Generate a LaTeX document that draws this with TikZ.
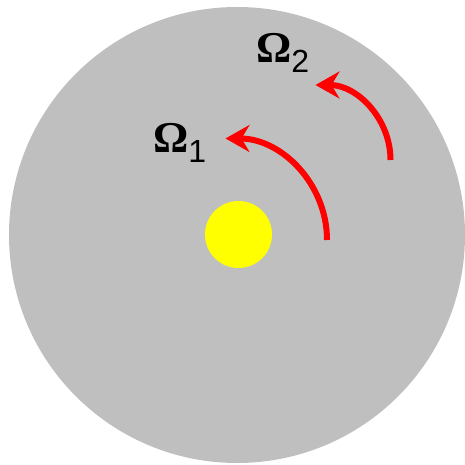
\documentclass[tikz,border=0pt]{standalone}
\usepackage{fontspec}
\setmainfont{Liberation Serif}
\setsansfont{Liberation Sans}
\usepackage{tikz}
\usetikzlibrary{arrows.meta}
\definecolor{diskcolor}{RGB}{191,191,191}
\definecolor{corecolor}{RGB}{255,255,0}
\definecolor{spincolor}{RGB}{255,0,0}
\tikzset{
  disk/.style={
    circle,
    fill=diskcolor,
    inner sep=0pt,
    minimum size=456pt
  },
  core/.style={
    circle,
    fill=corecolor,
    inner sep=0pt,
    minimum size=67pt
  },
  spin/.style={
    draw=spincolor,
    line width=6pt,
    -{Stealth[length=24pt,width=27pt,inset=8pt]}
  },
  omega/.style={
    inner sep=0pt,
    anchor=base west,
    font=\fontsize{44}{44}\selectfont\bfseries
  }
}
\newcommand{\omsub}[1]{\raisebox{-10pt}{\fontsize{32}{32}\selectfont\mdseries\sffamily #1}}

\begin{document}
\begin{tikzpicture}[x=1pt,y=1pt]
  \useasboundingbox (0,0) rectangle (465,465);
  % body and core
  \node[disk] (body) at (237,230) {};
  \node[core] (centre) at (238.5,230.5) {};

  % rotation arrows
  \coordinate (in start) at (327,225);
  \coordinate (out start) at (390.5,305);
  \draw[spin] (in start) arc[start angle=0,end angle=90,radius=101.5];
  \draw[spin] (out start) arc[start angle=0,end angle=90,radius=75];

  % labels
  \node[omega] (om1) at (153,312) {Ω\omsub{1}};
  \node[omega] (om2) at (256,402) {Ω\omsub{2}};
\end{tikzpicture}
\end{document}
